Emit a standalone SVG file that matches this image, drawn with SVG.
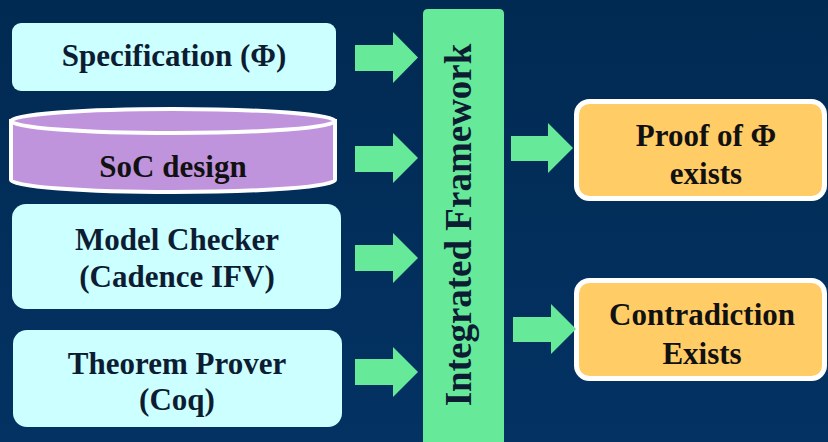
<svg xmlns="http://www.w3.org/2000/svg" width="828" height="442" viewBox="0 0 828 442">
<defs>
<linearGradient id="bg" x1="0" y1="0" x2="0" y2="1">
<stop offset="0" stop-color="#012a52"/>
<stop offset="1" stop-color="#033263"/>
</linearGradient>
<style>
.t{font-family:"Liberation Serif","Times New Roman",serif;font-weight:bold;font-size:31px;text-anchor:middle}
.dk{fill:#0c1d33}
.bk{fill:#111111}
.in{fill:#ccffff}
.out{fill:#ffcc66;stroke:#ffffff;stroke-width:5}
.arr{fill:#66e999}
</style>
</defs>
<rect width="828" height="442" fill="url(#bg)"/>

<g id="spec">
<rect class="in" x="12" y="23" width="324" height="68" rx="9"/>
<text class="t dk" x="174" y="66">Specification (Φ)</text>
</g>

<g id="soc">
<path d="M11,121 L11,180 A162,12 0 0 0 335,180 L335,121 Z" fill="#c094dd" stroke="#ffffff" stroke-width="4"/>
<ellipse cx="173" cy="121" rx="162" ry="12" fill="#c094dd" stroke="#ffffff" stroke-width="4"/>
<text class="t bk" x="173" y="177">SoC design</text>
</g>

<g id="model">
<rect class="in" x="12" y="204" width="329" height="105" rx="14"/>
<text class="t dk" x="177" y="250">Model Checker</text>
<text class="t dk" x="177" y="287">(Cadence IFV)</text>
</g>

<g id="prover">
<rect class="in" x="13" y="330" width="329" height="97" rx="14"/>
<text class="t dk" x="177" y="374">Theorem Prover</text>
<text class="t dk" x="177" y="410">(Coq)</text>
</g>

<g id="framework">
<path d="M423,14 Q423,9 428,9 L499,9 Q504,9 504,14 L504,442 L423,442 Z" fill="#66e999"/>
<text class="t dk" transform="translate(471,225) rotate(-90)" x="0" y="0" style="font-size:37px">Integrated Framework</text>
</g>

<g id="proof">
<rect class="out" x="576.5" y="101.5" width="248" height="97" rx="13"/>
<text class="t bk" x="706" y="146">Proof of Φ</text>
<text class="t bk" x="706" y="184">exists</text>
</g>

<g id="contra">
<rect class="out" x="576.5" y="280.5" width="248" height="98" rx="13"/>
<text class="t bk" x="702" y="325">Contradiction</text>
<text class="t bk" x="702" y="364">Exists</text>
</g>

<g id="connectors">
<polygon class="arr" points="355,45 393,45 393,32 418,57.5 393,83 393,71 355,71"/>
<polygon class="arr" points="355,146 393,146 393,133 418,158 393,183 393,172 355,172"/>
<polygon class="arr" points="355,245 393,245 393,233 418,258 393,283 393,271 355,271"/>
<polygon class="arr" points="355,359 393,359 393,347 418,372 393,397 393,385 355,385"/>
<polygon class="arr" points="511,136 548,136 548,123 573,148 548,173 548,161 511,161"/>
<polygon class="arr" points="513,317 551,317 551,304 576,329 551,354 551,342 513,342"/>
</g>
</svg>
